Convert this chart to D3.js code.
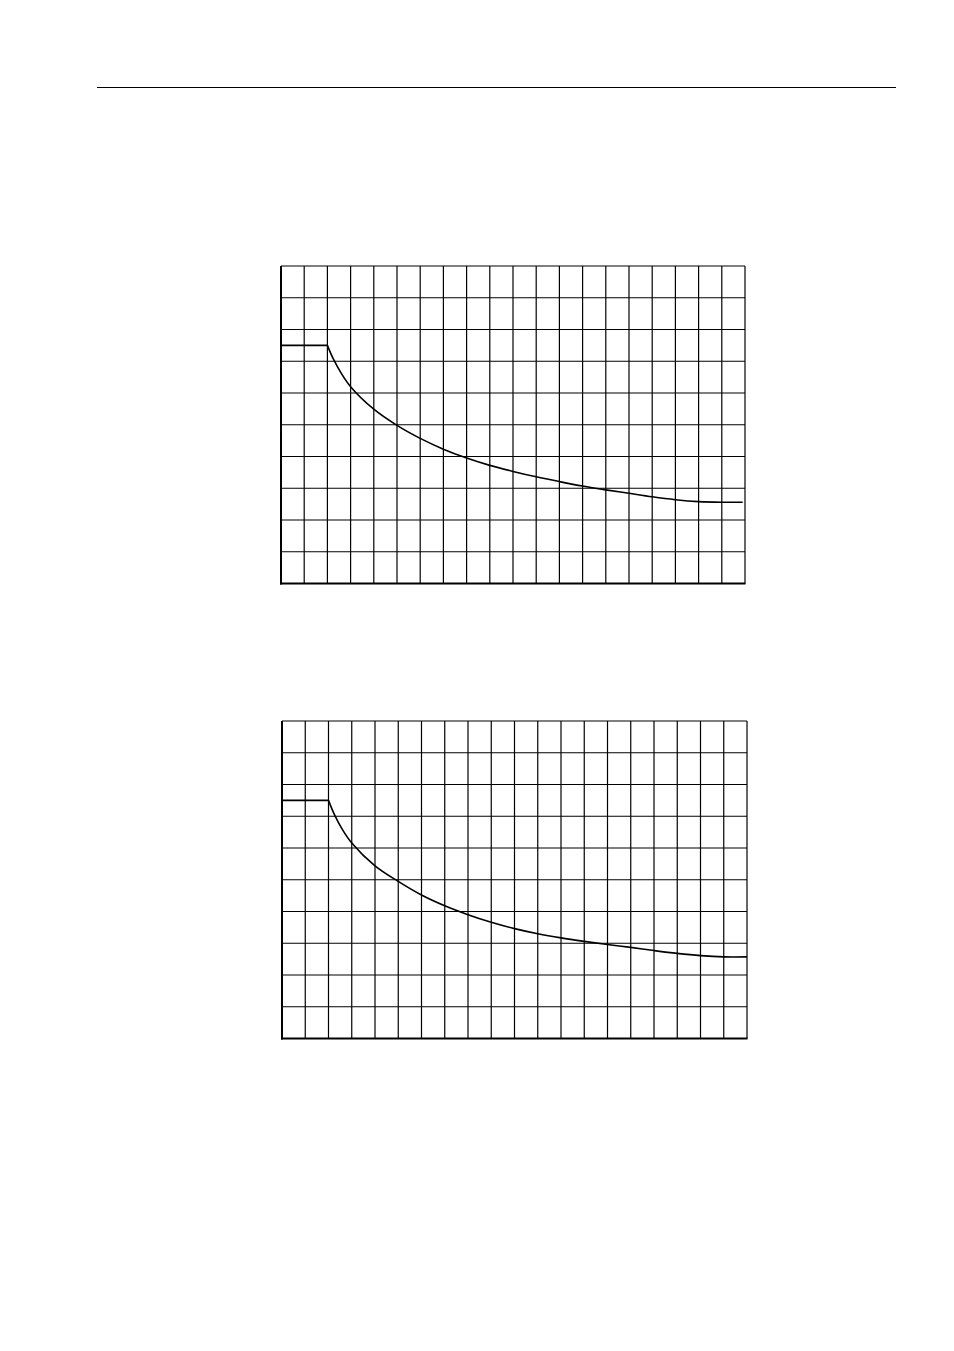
<!DOCTYPE html>
<html><head><meta charset="utf-8">
<script src="https://cdn.jsdelivr.net/npm/d3@7"></script>
<style>html,body{margin:0;padding:0;background:#fff}</style>
</head><body>
<script>
// Data (grid units: x 0..20 columns, y 0..10 rows)
const xTicks = d3.range(0, 21);
const yTicks = d3.range(0, 11);
const curve1X = [0, 2, 2.25, 2.6, 3, 4, 5, 6, 7, 8, 9, 10, 11, 12, 13, 14, 15, 16, 17, 18, 19, 19.9];
const curve1Y = [7.5, 7.5, 7.08, 6.62, 6.2, 5.49, 4.98, 4.57, 4.23, 3.95, 3.72, 3.53, 3.36, 3.21, 3.07, 2.95, 2.84, 2.73, 2.64, 2.58, 2.56, 2.56];
const curve2X = [0, 2, 2.25, 2.6, 3, 4, 5, 6, 7, 8, 9, 10, 11, 12, 13, 14, 15, 16, 17, 18, 19, 20];
const curve2Y = [7.5, 7.5, 7.06, 6.58, 6.16, 5.44, 4.95, 4.52, 4.18, 3.9, 3.66, 3.46, 3.3, 3.17, 3.06, 2.96, 2.87, 2.77, 2.68, 2.61, 2.57, 2.57];

const W = 954, H = 1351;
const svg = d3.select("body").append("svg").attr("width", W).attr("height", H)
  .style("display","block").style("background","#fff");

// header rule
svg.append("line").attr("x1", 97).attr("x2", 896).attr("y1", 87.5).attr("y2", 87.5)
  .attr("stroke", "#000").attr("stroke-width", 1.2);

function drawChart(box, xs, ys) {
  const x = d3.scaleLinear().domain([0, 20]).range([box.l, box.r]);
  const y = d3.scaleLinear().domain([0, 10]).range([box.b, box.t]);
  const g = svg.append("g");
  g.selectAll("line.v").data(xTicks).join("line")
    .attr("x1", d => x(d)).attr("x2", d => x(d))
    .attr("y1", box.t).attr("y2", box.b)
    .attr("stroke", "#000").attr("stroke-width", 1.2);
  g.selectAll("line.h").data(yTicks).join("line")
    .attr("x1", box.l).attr("x2", box.r)
    .attr("y1", d => y(d)).attr("y2", d => y(d))
    .attr("stroke", "#000").attr("stroke-width", 1.2);
  g.append("line").attr("x1", box.l).attr("x2", box.l).attr("y1", box.t).attr("y2", box.b + 1)
    .attr("stroke", "#000").attr("stroke-width", 2);
  g.append("line").attr("x1", box.l - 1).attr("x2", box.r + 0.5).attr("y1", box.b).attr("y2", box.b)
    .attr("stroke", "#000").attr("stroke-width", 2);
  const pts = xs.map((v, i) => [v, ys[i]]);
  const flat = d3.line().x(d => x(d[0])).y(d => y(d[1]));
  const smooth = d3.line().x(d => x(d[0])).y(d => y(d[1])).curve(d3.curveCatmullRom.alpha(0.5));
  g.append("path").datum(pts.slice(0, 2)).attr("d", flat)
    .attr("fill", "none").attr("stroke", "#000").attr("stroke-width", 1.8);
  g.append("path").datum(pts.slice(1)).attr("d", smooth)
    .attr("fill", "none").attr("stroke", "#000").attr("stroke-width", 1.6);
}

drawChart({l: 281, r: 745, t: 266, b: 583.5}, curve1X, curve1Y);
drawChart({l: 282, r: 747, t: 721, b: 1038.5}, curve2X, curve2Y);
</script>
</body></html>
